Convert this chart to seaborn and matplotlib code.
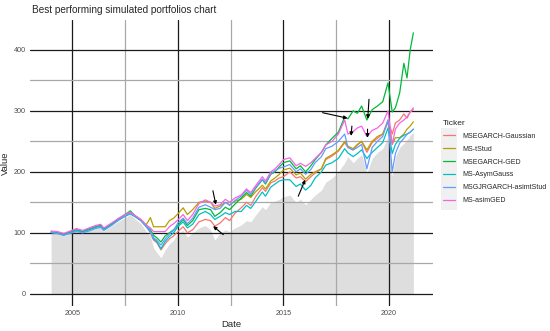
# best performing simulated portfolios chart

import numpy as np
import pandas as pd
import matplotlib
matplotlib.use('Agg')
import matplotlib.pyplot as plt
from matplotlib.patches import Rectangle
from matplotlib.ticker import MultipleLocator
import seaborn as sns


DATES = [2004.0, 2004.3, 2004.6, 2004.9, 2005.2, 2005.5, 2005.8, 2006.1, 2006.35, 2006.5,
         2006.9, 2007.2, 2007.5, 2007.75, 2008.0, 2008.25, 2008.5, 2008.7, 2008.85, 2009.0,
         2009.2, 2009.4, 2009.6, 2009.8, 2010.0, 2010.25, 2010.45, 2010.7, 2011.0, 2011.3,
         2011.55, 2011.75, 2012.0, 2012.25, 2012.45, 2012.7, 2013.0, 2013.25, 2013.45, 2013.7,
         2014.0, 2014.15, 2014.4, 2014.6, 2014.8, 2015.0, 2015.3, 2015.6, 2015.8, 2016.05,
         2016.3, 2016.5, 2016.8, 2017.0, 2017.3, 2017.6, 2017.9, 2018.05, 2018.3, 2018.5,
         2018.7, 2018.95, 2019.2, 2019.45, 2019.7, 2019.95, 2020.15, 2020.3, 2020.5, 2020.7,
         2020.85, 2021.0, 2021.15]

TICKERS = ['MSEGARCH-Gaussian', 'MS-tStud', 'MSEGARCH-GED',
           'MS-AsymGauss', 'MSGJRGARCH-asimtStud', 'MS-asimGED']

msegarch_gaussian = [101, 100, 97, 101, 105, 102, 106, 110, 112, 106, 115, 122, 128, 132, 126, 120, 111,
                     100, 88, 84, 72, 82, 90, 95, 102, 110, 100, 105, 118, 122, 120, 111, 116, 125, 120,
                     132, 141, 150, 145, 160, 174, 168, 182, 185, 190, 192, 200, 190, 192, 184, 192, 198,
                     205, 220, 226, 234, 248, 240, 236, 244, 250, 232, 248, 255, 262, 285, 262, 280, 285,
                     295, 288, 298, 302]
ms_tstud = [101, 100, 97, 101, 105, 102, 106, 110, 112, 106, 115, 122, 128, 133, 127, 121, 113,
            125, 110, 110, 110, 110, 120, 124, 131, 141, 130, 138, 150, 152, 150, 140, 144, 150, 146,
            152, 155, 163, 158, 168, 178, 172, 185, 190, 196, 203, 206, 195, 198, 188, 196, 200,
            205, 222, 228, 235, 250, 242, 238, 245, 250, 236, 250, 258, 262, 282, 245, 256, 256,
            262, 270, 275, 282]
msegarch_ged = [101, 100, 97, 101, 104, 102, 106, 109, 112, 106, 115, 123, 130, 136, 127, 121, 111,
                105, 96, 92, 85, 95, 100, 105, 112, 122, 112, 120, 138, 140, 138, 127, 133, 142, 138,
                147, 157, 166, 160, 174, 187, 180, 196, 200, 208, 215, 218, 205, 210, 200, 210, 220,
                232, 244, 255, 265, 290, 287, 300, 296, 308, 285, 302, 308, 315, 346, 298, 305, 329,
                378, 354, 400, 428]
ms_asymgauss = [100, 99, 96, 100, 104, 101, 105, 109, 111, 105, 114, 121, 127, 131, 126, 120, 110,
                102, 90, 86, 74, 86, 94, 100, 110, 118, 108, 114, 130, 135, 130, 122, 127, 133, 130,
                135, 135, 145, 140, 152, 167, 160, 175, 180, 185, 187, 187, 176, 180, 170, 178, 190,
                200, 211, 215, 222, 238, 231, 225, 230, 236, 222, 232, 240, 248, 272, 230, 245, 255,
                260, 262, 265, 270]
msgjrgarch_asimtstud = [101, 99, 96, 99, 102, 100, 103, 107, 109, 104, 113, 121, 128, 132, 127, 121, 111,
                        102, 92, 88, 80, 90, 98, 104, 116, 124, 115, 124, 142, 146, 142, 138, 140, 150, 145,
                        153, 160, 170, 163, 175, 188, 182, 197, 202, 206, 208, 212, 200, 205, 196, 204, 215,
                        225, 238, 242, 250, 262, 240, 236, 240, 245, 205, 240, 250, 258, 285, 200, 230, 247,
                        255, 262, 265, 270]
ms_asimged = [103, 102, 99, 103, 107, 104, 108, 112, 114, 108, 117, 124, 130, 134, 128, 122, 113,
              108, 102, 102, 102, 102, 110, 115, 121, 130, 120, 130, 148, 154, 150, 144, 146, 155, 150,
              157, 162, 172, 166, 178, 192, 185, 200, 205, 212, 220, 223, 210, 214, 209, 215, 222,
              232, 244, 250, 262, 285, 262, 266, 272, 275, 258, 268, 272, 280, 300, 245, 270, 280,
              285, 290, 298, 305]
benchmark = [100, 99, 95, 99, 103, 100, 104, 107, 110, 103, 112, 119, 125, 130, 122, 115, 102,
             95, 75, 68, 59, 72, 82, 88, 100, 104, 93, 100, 108, 112, 105, 88, 100, 105, 102,
             108, 113, 120, 118, 130, 143, 138, 150, 152, 155, 159, 162, 150, 155, 146, 155, 162,
             170, 183, 190, 200, 215, 225, 215, 222, 228, 198, 222, 232, 238, 258, 192, 225, 240,
             247, 252, 260, 265]

# arrows: (tail_x, tail_y, tip_x, tip_y)
ARROWS = [(2011.66, 169, 2011.80, 146),
          (2012.15, 97, 2011.67, 111),
          (2015.70, 160, 2016.03, 187),
          (2016.85, 297, 2018.03, 288),
          (2018.24, 275, 2018.20, 259),
          (2019.05, 319, 2018.99, 287),
          (2018.98, 270, 2018.98, 256)]

PALETTE = ['#F8766D', '#B79F00', '#00BA38', '#00BFC4', '#619CFF', '#F564E3']

series = [msegarch_gaussian, ms_tstud, msegarch_ged, ms_asymgauss,
          msgjrgarch_asimtstud, ms_asimged]
df = pd.concat([pd.DataFrame({'Date': DATES, 'Value': vals, 'Ticker': name})
                for name, vals in zip(TICKERS, series)], ignore_index=True)

sns.set_theme(style='white')
plt.rcParams['font.family'] = ['Liberation Sans', 'DejaVu Sans']

W, H = 550, 331
fig = plt.figure(figsize=(5.5, 3.31), dpi=100)
ax = fig.add_axes([30 / W, 1 - 306 / H, 403 / W, 286 / H])

ax.fill_between(DATES, 0, benchmark, color='#DEDEDE', lw=0, zorder=0.3)
sns.lineplot(data=df, x='Date', y='Value', hue='Ticker', hue_order=TICKERS,
             palette=PALETTE, lw=0.9, ax=ax, legend=False, zorder=2)

for tx, ty, hx, hy in ARROWS:
    ax.annotate('', xy=(hx, hy), xytext=(tx, ty),
                arrowprops=dict(arrowstyle='-|>', color='black', lw=0.8,
                                mutation_scale=5, shrinkA=0, shrinkB=0), zorder=3)

ax.set_xlim(2003.0, 2022.08)
ax.set_ylim(-20, 449)
ax.xaxis.set_major_locator(MultipleLocator(5))
ax.xaxis.set_minor_locator(MultipleLocator(2.5))
ax.yaxis.set_major_locator(MultipleLocator(100))
ax.yaxis.set_minor_locator(MultipleLocator(50))
ax.set_axisbelow(True)
ax.grid(which='major', color='#1a1a1a', lw=0.9, zorder=0.5)
ax.grid(which='minor', color='#a8a8a8', lw=0.9, zorder=0.5)
for s in ax.spines.values():
    s.set_visible(False)
ax.tick_params(which='both', length=0, labelsize=5.2, labelcolor='#4d4d4d', pad=3)

ax.set_xlabel('Date', fontsize=6.8, labelpad=2)
ax.set_ylabel('Value', fontsize=6.8, labelpad=3)
fig.text(32 / W, 1 - 10 / H, 'Best performing simulated portfolios chart',
         fontsize=7.2, va='center', ha='left')

# legend with light gray key column
fig.add_artist(Rectangle((441 / W, 1 - 210 / H), 16 / W, 82 / H,
                         transform=fig.transFigure, color='#F0F0F0', lw=0, zorder=0))
handles = [plt.Line2D([], [], color=c, lw=0.9) for c in PALETTE]
leg = fig.legend(handles, TICKERS, title='Ticker', loc='upper left',
                 bbox_to_anchor=(438 / W, 1 - 115 / H), frameon=False,
                 fontsize=5, title_fontsize=6, handlelength=1.7,
                 handletextpad=1.1, labelspacing=0.85, borderpad=0.2)
leg._legend_box.align = 'left'

fig.savefig('out.png', dpi=100)
